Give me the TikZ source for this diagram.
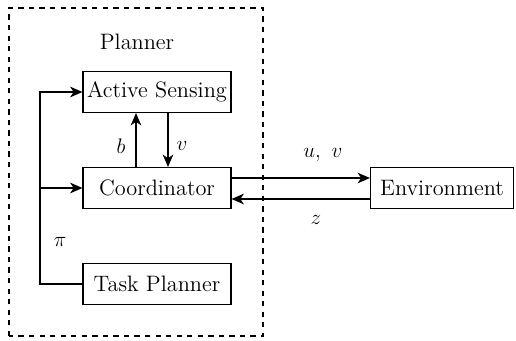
\documentclass[tikz,border=0pt]{standalone}
\usepackage{amsmath,amssymb}
\usepackage{tikz}
\usetikzlibrary{arrows.meta,positioning,calc}

\begin{document}
\begin{tikzpicture}[font=\fontsize{12.7}{15}\selectfont, >={Stealth[length=7pt,width=6pt,inset=2pt]},
  blk/.style={draw, line width=0.6pt, minimum width=2.96cm, minimum height=0.82cm, inner sep=2pt},
  sig/.style={line width=1.1pt, ->}]
  \useasboundingbox (0,0) rectangle (10.32,6.8);
  % planner boundary
  \draw[dashed, line width=1.1pt] (0.18,0.08) rectangle (5.26,6.64);
  \node (ttl) at (2.74,5.96) {Planner};
  \node[blk] (as) at (3.14,4.96) {Active Sensing};
  \node[blk] (co) at (3.14,3.04) {Coordinator};
  \node[blk] (tp) at (3.14,1.12) {Task Planner};
  \node[blk, minimum width=2.86cm] (env) at (8.84,3.04) {Environment};
  % task plan bus
  \coordinate (bt) at (0.8,4.96);
  \coordinate (bm) at (0.8,3.04);
  \draw[sig] (tp.west) -| (bt) -- (as.west);
  \draw[sig] (bm) -- (co.west);
  \node (pi) at (1.2,1.96) {$\pi$};
  % belief / view exchange
  \draw[sig] ([xshift=-0.42cm]co.north) -- ([xshift=-0.42cm]as.south);
  \draw[sig] ([xshift=0.22cm]as.south) -- ([xshift=0.22cm]co.north);
  \node (bl) at (2.42,3.88) {$b$};
  \node (vl) at (3.64,3.88) {$v$};
  % actions and observations
  \draw[sig] ([yshift=0.2cm]co.east) -- ([yshift=0.2cm]env.west);
  \draw[sig] ([yshift=-0.22cm]env.west) -- ([yshift=-0.22cm]co.east);
  \node (uv) at (6.46,3.7) {$u,\ v$};
  \node (zl) at (6.32,2.4) {$z$};
\end{tikzpicture}
\end{document}
